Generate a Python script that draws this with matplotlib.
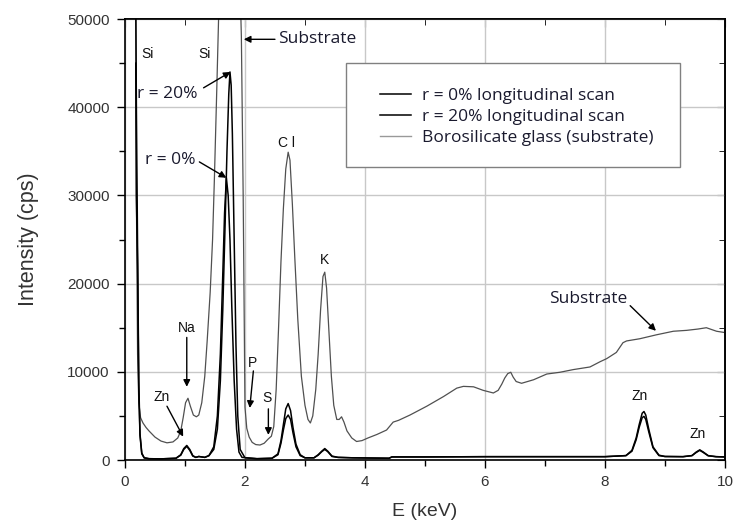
import matplotlib
matplotlib.use("Agg")
import matplotlib.pyplot as plt
from matplotlib.patches import Rectangle
from matplotlib.ticker import MultipleLocator


# borosilicate glass substrate (thin grey line)
sub_x = [0.18, 0.19, 0.21, 0.23, 0.26, 0.30, 0.35, 0.40, 0.50, 0.60, 0.70,
         0.80, 0.88, 0.93, 0.97, 1.01, 1.05, 1.09, 1.14, 1.19, 1.23, 1.28,
         1.33, 1.37, 1.42, 1.46, 1.49, 1.53, 1.56, 1.60, 1.75, 1.91, 1.94,
         1.97, 2.00, 2.03, 2.07, 2.12, 2.18, 2.25, 2.32, 2.39, 2.44, 2.48,
         2.52, 2.56, 2.60, 2.64, 2.68, 2.72, 2.75, 2.79, 2.83, 2.88, 2.94,
         3.00, 3.05, 3.09, 3.13, 3.18, 3.22, 3.26, 3.30, 3.33, 3.36, 3.40,
         3.44, 3.48, 3.53, 3.57, 3.61, 3.65, 3.70, 3.78, 3.86, 3.95, 4.05,
         4.20, 4.36, 4.47, 4.56, 4.75, 5.03, 5.31, 5.53, 5.64, 5.81, 5.97,
         6.14, 6.22, 6.28, 6.33, 6.38, 6.43, 6.47, 6.52, 6.61, 6.81, 7.03,
         7.25, 7.47, 7.75, 7.92, 8.03, 8.19, 8.30, 8.36, 8.58, 8.86, 9.14,
         9.36, 9.55, 9.69, 9.86, 10.0]
sub_y = [52000, 30000, 12000, 6500, 4800, 4200, 3700, 3300, 2600, 2150, 1950,
         2050, 2500, 3300, 4800, 6500, 7000, 6100, 5100, 4900, 5100, 6500,
         9500, 13500, 19000, 25000, 31800, 42000, 50000, 56000, 60000, 56000,
         48000, 30000, 6000, 3600, 2600, 2000, 1750, 1700, 1900, 2400, 2700,
         3800, 8000, 15000, 22500, 28500, 33000, 34900, 34000, 29000, 23000,
         16000, 9500, 6200, 4600, 4200, 5000, 8000, 12000, 17000, 20800,
         21300, 19500, 14500, 9500, 6200, 4600, 4600, 4900, 4300, 3300, 2500,
         2100, 2200, 2500, 2900, 3400, 4300, 4500, 5100, 6100, 7200, 8150,
         8350, 8300, 7900, 7600, 7900, 8600, 9300, 9800, 9950, 9400, 8900,
         8700, 9100, 9750, 9950, 10250, 10550, 11150, 11500, 12200, 13300,
         13500, 13750, 14200, 14600, 14700, 14850, 15000, 14600, 14450]

# r = 0% longitudinal scan
r0_x = [0.18, 0.19, 0.21, 0.23, 0.25, 0.28, 0.32, 0.40, 0.60, 0.85, 0.93,
        0.98, 1.03, 1.08, 1.13, 1.18, 1.23, 1.28, 1.33, 1.40, 1.48, 1.54,
        1.59, 1.63, 1.66, 1.69, 1.72, 1.75, 1.78, 1.82, 1.86, 1.90, 1.95,
        2.20, 2.45, 2.55, 2.60, 2.64, 2.68, 2.72, 2.76, 2.80, 2.85, 2.92,
        3.00, 3.15, 3.22, 3.28, 3.33, 3.38, 3.45, 3.55, 3.80, 4.40, 4.45,
        5.0, 6.0, 7.0, 8.0, 8.35, 8.45, 8.52, 8.57, 8.62, 8.65, 8.68, 8.73,
        8.80, 8.90, 9.0, 9.30, 9.45, 9.52, 9.58, 9.64, 9.72, 9.85, 10.0]
r0_y = [45000, 30000, 22000, 8000, 2800, 700, 250, 150, 130, 200, 550,
        1200, 1550, 1100, 450, 300, 400, 350, 300, 500, 1500, 5000, 12000,
        21000, 28000, 32000, 30000, 25000, 17500, 9000, 3500, 900, 300, 150,
        200, 600, 1900, 3400, 4700, 5100, 4600, 3100, 1500, 500, 250, 250,
        550, 950, 1200, 950, 400, 300, 250, 200, 350, 350, 380, 380, 380,
        500, 1000, 2300, 3700, 4800, 4950, 4600, 3200, 1400, 500, 400, 380,
        500, 850, 1100, 850, 480, 380, 350]

# r = 20% longitudinal scan
r20_x = [0.18, 0.19, 0.21, 0.23, 0.25, 0.28, 0.32, 0.40, 0.60, 0.85, 0.93,
         0.98, 1.03, 1.08, 1.13, 1.18, 1.23, 1.28, 1.33, 1.40, 1.48, 1.54,
         1.59, 1.63, 1.67, 1.70, 1.73, 1.75, 1.77, 1.79, 1.82, 1.85, 1.88,
         1.92, 2.00, 2.20, 2.45, 2.55, 2.60, 2.64, 2.68, 2.72, 2.76, 2.80,
         2.85, 2.92, 3.00, 3.15, 3.22, 3.28, 3.33, 3.38, 3.45, 3.55, 3.80,
         4.40, 4.45, 5.0, 6.0, 7.0, 8.0, 8.35, 8.45, 8.52, 8.57, 8.62, 8.65,
         8.68, 8.73, 8.80, 8.90, 9.0, 9.30, 9.45, 9.52, 9.58, 9.64, 9.72,
         9.85, 10.0]
r20_y = [52000, 40000, 24000, 9000, 3000, 800, 250, 150, 130, 200, 600,
         1300, 1650, 1200, 500, 300, 400, 350, 300, 500, 1200, 3500, 9000,
         17000, 27000, 35000, 41500, 44000, 42500, 37000, 25000, 13000, 5000,
         1200, 250, 150, 200, 700, 2200, 4000, 5800, 6400, 5600, 3700, 1800,
         600, 250, 250, 600, 1000, 1300, 1000, 450, 300, 250, 200, 350, 350,
         380, 380, 380, 500, 1100, 2500, 4000, 5300, 5500, 5100, 3500, 1500,
         550, 400, 380, 500, 900, 1150, 900, 500, 380, 350]

LABELS = ["r = 0% longitudinal scan", "r = 20% longitudinal scan",
          "Borosilicate glass (substrate)"]

TICK_FONT = "Liberation Sans"
NOTE_FONT = "Open Sans"


def main():
    fig = plt.figure(figsize=(7.36, 5.27), dpi=100)
    ax = fig.add_axes([0.1698, 0.1271, 0.8152, 0.8368])

    l_sub, = ax.plot(sub_x, sub_y, color="#505050", lw=0.9, zorder=2)
    l_r0, = ax.plot(r0_x, r0_y, color="black", lw=1.1, zorder=3)
    l_r20, = ax.plot(r20_x, r20_y, color="black", lw=1.1, zorder=3)

    ax.set_xlim(0, 10)
    ax.set_ylim(0, 50000)
    ax.set_xticks(range(0, 11, 2))
    ax.set_yticks(range(0, 50001, 10000))
    ax.xaxis.set_minor_locator(MultipleLocator(1))
    ax.yaxis.set_minor_locator(MultipleLocator(5000))
    ax.tick_params(which="both", direction="out", width=1, colors="black",
                   labelcolor="#333333", labelsize=11)
    ax.tick_params(which="major", length=6, pad=5)
    ax.tick_params(which="minor", length=4)
    for lab in ax.get_xticklabels() + ax.get_yticklabels():
        lab.set_fontfamily(TICK_FONT)

    top = ax.secondary_xaxis("top")
    top.set_xticks(range(0, 11, 2))
    top.xaxis.set_minor_locator(MultipleLocator(1))
    top.tick_params(which="both", direction="in", labeltop=False)
    top.tick_params(which="major", length=6)
    top.tick_params(which="minor", length=4)
    right = ax.secondary_yaxis("right")
    right.set_yticks(range(0, 50001, 10000))
    right.yaxis.set_minor_locator(MultipleLocator(5000))
    right.tick_params(which="both", direction="in", labelright=False)
    right.tick_params(which="major", length=6)
    right.tick_params(which="minor", length=4)
    for sp in list(ax.spines.values()) + [top.spines["top"],
                                          right.spines["right"]]:
        sp.set_linewidth(1.2)

    ax.grid(color="#c8c8c8", lw=1)
    ax.set_axisbelow(True)

    ax.set_xlabel("E (keV)", fontsize=14, family=TICK_FONT, color="#333333",
                  labelpad=10)
    ax.set_ylabel("Intensity (cps)", fontsize=15.5, family=TICK_FONT,
                  color="#333333", labelpad=20)

    # legend box
    ax.add_patch(Rectangle((0.368, 0.664), 0.557, 0.236,
                           transform=ax.transAxes, facecolor="white",
                           edgecolor="#808080", lw=1, zorder=4))
    l_sub_h = plt.Line2D([], [], color="#999999", lw=1)
    leg = ax.legend([l_r0, l_r20, l_sub_h], LABELS, loc="center left",
                    bbox_to_anchor=(0.425, 0.778), frameon=False,
                    prop={"family": NOTE_FONT, "size": 12.5},
                    handlelength=1.8, handletextpad=0.6, labelspacing=0.27,
                    borderpad=0, borderaxespad=0)
    leg.set_zorder(5)
    for t in leg.get_texts():
        t.set_color("#1a1a2e")

    arrow = dict(arrowstyle="-|>", color="black", lw=1, mutation_scale=10,
                 shrinkA=0, shrinkB=0)
    lab_kw = dict(fontsize=10, family=TICK_FONT, color="#111111",
                  ha="center", va="center")
    note_kw = dict(fontsize=12.5, family=NOTE_FONT, color="#1a1a2e",
                   va="center")

    ax.text(0.37, 46000, "Si", **lab_kw)
    ax.text(1.32, 46000, "Si", **lab_kw)
    ax.text(2.69, 36000, "C l", **lab_kw)
    ax.text(3.33, 22700, "K", **lab_kw)
    ax.text(8.58, 7300, "Zn", **lab_kw)
    ax.text(9.55, 2900, "Zn", **lab_kw)

    ax.text(1.03, 15000, "Na", **lab_kw)
    ax.annotate("", xy=(1.03, 8300), xytext=(1.03, 13900), arrowprops=arrow)
    ax.text(0.61, 7200, "Zn", **lab_kw)
    ax.annotate("", xy=(0.97, 2650), xytext=(0.70, 6100), arrowprops=arrow)
    ax.text(2.13, 11000, "P", **lab_kw)
    ax.annotate("", xy=(2.08, 5900), xytext=(2.14, 10100), arrowprops=arrow)
    ax.text(2.36, 7000, "S", **lab_kw)
    ax.annotate("", xy=(2.39, 2850), xytext=(2.39, 5800), arrowprops=arrow)

    ax.text(2.55, 47700, "Substrate", ha="left", **note_kw)
    ax.annotate("", xy=(1.98, 47700), xytext=(2.50, 47700), arrowprops=arrow)
    ax.text(0.20, 41500, "r = 20%", ha="left", **note_kw)
    ax.annotate("", xy=(1.76, 44000), xytext=(1.31, 42200), arrowprops=arrow)
    ax.text(0.33, 34000, "r = 0%", ha="left", **note_kw)
    ax.annotate("", xy=(1.69, 32000), xytext=(1.24, 33800), arrowprops=arrow)
    ax.text(7.72, 18300, "Substrate", ha="center", **note_kw)
    ax.annotate("", xy=(8.85, 14650), xytext=(8.42, 17500), arrowprops=arrow)

    fig.savefig("out.png", dpi=100)


if __name__ == "__main__":
    main()
